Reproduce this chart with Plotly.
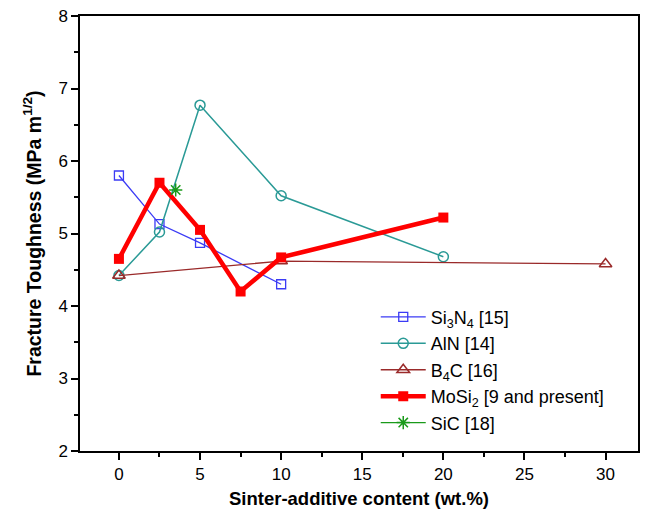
import plotly.graph_objects as go

si3n4_x = [0, 2.5, 5, 10]
si3n4_y = [5.8, 5.13, 4.87, 4.3]
aln_x = [0, 2.5, 5, 10, 20]
aln_y = [4.42, 5.02, 6.77, 5.52, 4.68]
b4c_x = [0, 10, 30]
b4c_y = [4.42, 4.62, 4.58]
mosi2_x = [0, 2.5, 5, 7.5, 10, 20]
mosi2_y = [4.65, 5.7, 5.05, 4.2, 4.67, 5.22]
sic_x = [3.5]
sic_y = [5.6]

names = ["Si<sub>3</sub>N<sub>4</sub> [15]", "AlN [14]", "B<sub>4</sub>C [16]",
         "MoSi<sub>2</sub> [9 and present]", "SiC [18]"]

fig = go.Figure()
fig.add_trace(go.Scatter(x=si3n4_x, y=si3n4_y, name=names[0], mode="lines+markers", legendgroup="a",
                         line=dict(color="#3b3bf5", width=1.3),
                         marker=dict(symbol="square-open", size=9, color="#3b3bf5", line=dict(width=1.3))))
fig.add_trace(go.Scatter(x=aln_x, y=aln_y, name=names[1], mode="lines+markers", legendgroup="b",
                         line=dict(color="#2a9a96", width=1.5),
                         marker=dict(symbol="circle-open", size=10, color="#2a9a96", line=dict(width=1.5))))
fig.add_trace(go.Scatter(x=b4c_x, y=b4c_y, name=names[2], mode="lines+markers", legendgroup="c",
                         line=dict(color="#9a2a2a", width=1.3),
                         marker=dict(symbol="triangle-up-open", size=11, color="#9a2a2a", line=dict(width=1.5))))
fig.add_trace(go.Scatter(x=mosi2_x, y=mosi2_y, name=names[3], mode="lines+markers", legendgroup="d",
                         line=dict(color="#ff0000", width=4.5),
                         marker=dict(symbol="square", size=10, color="#ff0000")))
fig.add_trace(go.Scatter(x=sic_x, y=sic_y, name=names[4], mode="lines+markers", legendgroup="e",
                         line=dict(color="#1a9a1a", width=1.3),
                         marker=dict(symbol="asterisk-open", size=11, color="#1a9a1a", line=dict(width=1.5, color="#1a9a1a"))))

axis_common = dict(showline=True, linecolor="black", linewidth=1.5, mirror=True,
                   ticks="outside", ticklen=7, tickwidth=1.5, tickcolor="black",
                   showgrid=False, zeroline=False,
                   tickfont=dict(family="Liberation Sans, Arial", size=17, color="black"))

fig.update_layout(
    width=646, height=519,
    margin=dict(l=80, r=6, t=16, b=68),
    plot_bgcolor="white", paper_bgcolor="white",
    showlegend=True,
    legend=dict(x=0.53, y=0.35, xanchor="left", yanchor="top",
                font=dict(family="Liberation Sans, Arial", size=18, color="black"),
                bgcolor="rgba(255,255,255,0)", itemwidth=45, tracegroupgap=0),
    xaxis=dict(range=[-2.4, 32], tickvals=[0, 5, 10, 15, 20, 25, 30],
               minor=dict(tickvals=[2.5, 7.5, 12.5, 17.5, 22.5, 27.5], ticks="outside", ticklen=4,
                          tickwidth=1.5, tickcolor="black"),
               title=dict(text="<b>Sinter-additive content (wt.%)</b>", standoff=9,
                          font=dict(family="Liberation Sans, Arial", size=18.5, color="black")),
               **axis_common),
    yaxis=dict(range=[2, 8], tickvals=[2, 3, 4, 5, 6, 7, 8],
               minor=dict(tickvals=[2.5, 3.5, 4.5, 5.5, 6.5, 7.5], ticks="outside", ticklen=4,
                          tickwidth=1.5, tickcolor="black"),
               title=dict(text="<b>Fracture Toughness (MPa m<sup>1/2</sup>)</b>", standoff=12,
                          font=dict(family="Liberation Sans, Arial", size=19.5, color="black")),
               **axis_common),
)

fig.write_html("out.html")
